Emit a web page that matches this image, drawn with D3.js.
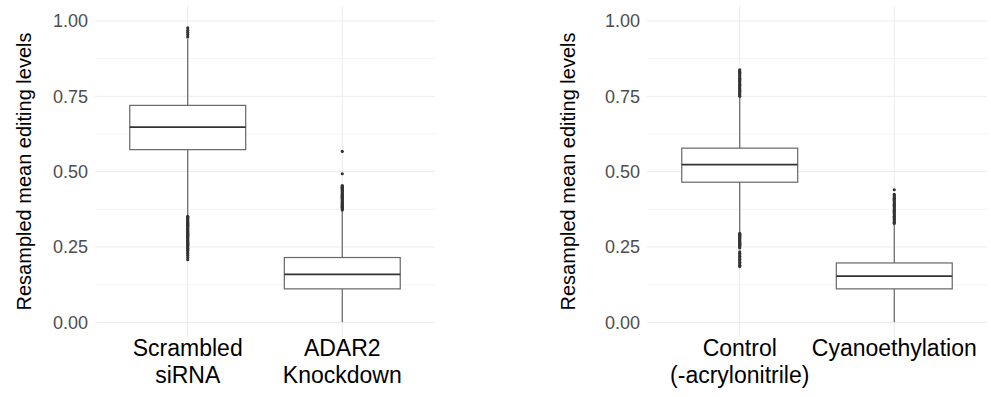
<!DOCTYPE html>
<html>
<head>
<meta charset="utf-8">
<script src="https://cdn.jsdelivr.net/npm/d3@7"></script>
<style>
  body { margin: 0; background: #fff; }
  svg { display: block; font-family: "Liberation Sans", Arial, Helvetica, sans-serif; }
  .grid-major { stroke: #ebebeb; stroke-width: 1; }
  .grid-minor { stroke: #f4f4f4; stroke-width: 1; }
  .tick-label { fill: #4d4d4d; font-size: 18px; }
  .axis-title { fill: #000; font-size: 20px; }
  .cat-label { fill: #000; font-size: 23px; }
  .box { fill: #fff; stroke: #666; stroke-width: 1.2; }
  .whisker { stroke: #666; stroke-width: 1.2; }
  .median { stroke: #333; stroke-width: 1.7; }
  .outlier { fill: #333; }
</style>
</head>
<body>
<svg width="991" height="397"></svg>
<script>
// ---- data ----
var yTicks = [0, 0.25, 0.5, 0.75, 1.0];
var yMinor = [0.125, 0.375, 0.625, 0.875];

var leftCategories = [["Scrambled", "siRNA"], ["ADAR2", "Knockdown"]];
var leftQ1 = [0.573, 0.111];
var leftMedian = [0.648, 0.159];
var leftQ3 = [0.720, 0.215];
var leftLower = [0.354, 0.0];
var leftUpper = [0.940, 0.370];
var leftOutliers = [
  [0.947, 0.955, 0.962, 0.969, 0.977,
   0.352, 0.349, 0.346, 0.343, 0.340, 0.337, 0.334, 0.331, 0.328, 0.325, 0.322,
   0.319, 0.316, 0.313, 0.310, 0.307, 0.304, 0.301, 0.298, 0.295, 0.292, 0.289,
   0.286, 0.283, 0.280, 0.277, 0.274, 0.271, 0.268, 0.265, 0.262, 0.259, 0.256,
   0.253, 0.250, 0.246, 0.242, 0.238, 0.233, 0.228, 0.222, 0.215, 0.208],
  [0.567, 0.493, 0.454, 0.451, 0.448, 0.445, 0.442, 0.439, 0.436, 0.433, 0.430,
   0.427, 0.424, 0.421, 0.418, 0.415, 0.412, 0.409, 0.406, 0.403, 0.400, 0.397,
   0.394, 0.391, 0.388, 0.385, 0.382, 0.379, 0.376, 0.373]
];

var rightCategories = [["Control", "(-acrylonitrile)"], ["Cyanoethylation"]];
var rightQ1 = [0.465, 0.111];
var rightMedian = [0.523, 0.153];
var rightQ3 = [0.578, 0.197];
var rightLower = [0.297, 0.0];
var rightUpper = [0.747, 0.325];
var rightOutliers = [
  [0.838, 0.834, 0.830, 0.826, 0.822, 0.818, 0.814, 0.810, 0.806, 0.802, 0.798,
   0.794, 0.790, 0.786, 0.782, 0.778, 0.774, 0.770, 0.766, 0.762, 0.758, 0.754, 0.750,
   0.295, 0.292, 0.289, 0.286, 0.283, 0.280, 0.277, 0.274, 0.271, 0.268, 0.265,
   0.262, 0.259, 0.256, 0.253, 0.250, 0.247,
   0.234, 0.229, 0.224, 0.219, 0.214, 0.209, 0.204, 0.199, 0.194, 0.189, 0.185],
  [0.440, 0.425, 0.420, 0.416, 0.412, 0.408, 0.404, 0.400, 0.396, 0.392, 0.388,
   0.384, 0.380, 0.376, 0.372, 0.368, 0.364, 0.360, 0.356, 0.352, 0.348, 0.344,
   0.340, 0.336, 0.332, 0.328]
];

var svg = d3.select("svg");

// shared y scale: 0 -> 322.3, 1 -> 21
var y = d3.scaleLinear().domain([0, 1]).range([322.3, 21]);
var panelTop = 6, panelBottom = 337;

function drawPanel(opts) {
  var g = svg.append("g");
  var x = d3.scalePoint()
    .domain(d3.range(opts.categories.length))
    .range([opts.left, opts.right])
    .padding(0.6);
  var step = x.step();
  var boxW = step * 0.75;

  // grid
  g.selectAll(".grid-minor")
    .data(yMinor)
    .enter().append("line")
    .attr("class", "grid-minor")
    .attr("x1", opts.left).attr("x2", opts.right)
    .attr("y1", function(d) { return y(d); })
    .attr("y2", function(d) { return y(d); });

  g.selectAll(".grid-major.h")
    .data(yTicks)
    .enter().append("line")
    .attr("class", "grid-major h")
    .attr("x1", opts.left).attr("x2", opts.right)
    .attr("y1", function(d) { return y(d); })
    .attr("y2", function(d) { return y(d); });

  g.selectAll(".grid-major.v")
    .data(opts.categories)
    .enter().append("line")
    .attr("class", "grid-major v")
    .attr("x1", function(d, i) { return x(i); })
    .attr("x2", function(d, i) { return x(i); })
    .attr("y1", panelTop).attr("y2", panelBottom);

  // y tick labels
  g.selectAll(".tick-label")
    .data(yTicks)
    .enter().append("text")
    .attr("class", "tick-label")
    .attr("x", opts.left - 7)
    .attr("y", function(d) { return y(d); })
    .attr("dy", "0.35em")
    .attr("text-anchor", "end")
    .text(function(d) { return d3.format(".2f")(d); });

  // y title
  g.append("text")
    .attr("class", "axis-title")
    .attr("transform", "translate(" + opts.titleX + "," + ((panelTop + panelBottom) / 2) + ") rotate(-90)")
    .attr("text-anchor", "middle")
    .text("Resampled mean editing levels");

  // category labels
  opts.categories.forEach(function(lines, i) {
    var t = g.append("text")
      .attr("class", "cat-label")
      .attr("text-anchor", "middle")
      .attr("x", x(i))
      .attr("y", 356);
    lines.forEach(function(line, j) {
      t.append("tspan")
        .attr("x", x(i))
        .attr("dy", j === 0 ? 0 : 27)
        .text(line);
    });
  });

  // boxes
  var idx = d3.range(opts.categories.length);
  var box = g.selectAll(".boxplot")
    .data(idx)
    .enter().append("g")
    .attr("class", "boxplot");

  box.append("line")
    .attr("class", "whisker")
    .attr("x1", function(i) { return x(i); })
    .attr("x2", function(i) { return x(i); })
    .attr("y1", function(i) { return y(opts.q3[i]); })
    .attr("y2", function(i) { return y(opts.upper[i]); });

  box.append("line")
    .attr("class", "whisker")
    .attr("x1", function(i) { return x(i); })
    .attr("x2", function(i) { return x(i); })
    .attr("y1", function(i) { return y(opts.q1[i]); })
    .attr("y2", function(i) { return y(opts.lower[i]); });

  box.append("rect")
    .attr("class", "box")
    .attr("x", function(i) { return x(i) - boxW / 2; })
    .attr("width", boxW)
    .attr("y", function(i) { return y(opts.q3[i]); })
    .attr("height", function(i) { return y(opts.q1[i]) - y(opts.q3[i]); });

  box.append("line")
    .attr("class", "median")
    .attr("x1", function(i) { return x(i) - boxW / 2; })
    .attr("x2", function(i) { return x(i) + boxW / 2; })
    .attr("y1", function(i) { return y(opts.median[i]); })
    .attr("y2", function(i) { return y(opts.median[i]); });

  box.selectAll(".outlier")
    .data(function(i) { return opts.outliers[i].map(function(v) { return { i: i, v: v }; }); })
    .enter().append("circle")
    .attr("class", "outlier")
    .attr("cx", function(d) { return x(d.i); })
    .attr("cy", function(d) { return y(d.v); })
    .attr("r", 1.6);
}

drawPanel({
  left: 95, right: 435, titleX: 31,
  categories: leftCategories,
  q1: leftQ1, median: leftMedian, q3: leftQ3,
  lower: leftLower, upper: leftUpper, outliers: leftOutliers
});

drawPanel({
  left: 647, right: 987, titleX: 575,
  categories: rightCategories,
  q1: rightQ1, median: rightMedian, q3: rightQ3,
  lower: rightLower, upper: rightUpper, outliers: rightOutliers
});
</script>
</body>
</html>
